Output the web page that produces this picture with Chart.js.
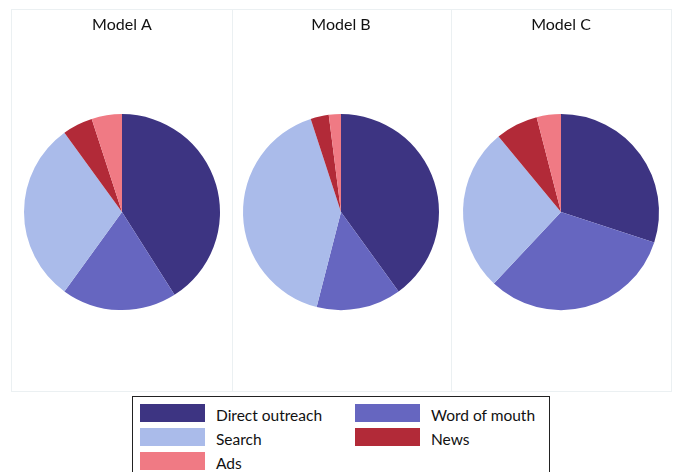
<!DOCTYPE html>
<html>
<head>
<meta charset="utf-8">
<script src="https://cdn.jsdelivr.net/npm/chart.js@4/dist/chart.umd.min.js"></script>
<style>
  html, body { margin: 0; padding: 0; background: #fff; overflow: hidden; }
  body { width: 673px; height: 472px; position: relative; font-family: Lato, "Noto Sans", sans-serif; }
  .panel { position: absolute; top: 9px; width: 220px; height: 381px; border: 1px solid #ebf0f2; box-sizing: content-box; }
  .panel canvas { display: block; width: 220px; height: 381px; }
  #legend { position: absolute; left: 132px; top: 396px; width: 416px; height: 100px;
            border: 1px solid #222; background: #fff; }
  .item { position: absolute; height: 18px; }
  .sw { position: absolute; left: 0; top: 0; width: 65px; height: 18px; }
  .lab { position: absolute; left: 76px; top: 1px; font-size: 15.5px; line-height: 20px; color: #111; white-space: nowrap; }
</style>
</head>
<body>
<div class="panel" style="left:11px"><canvas id="c0" width="220" height="381"></canvas></div>
<div class="panel" style="left:231px;border-left:none"><canvas id="c1" width="220" height="381"></canvas></div>
<div class="panel" style="left:451px;border-left:none"><canvas id="c2" width="220" height="381"></canvas></div>
<div id="legend"></div>
<script>
// Share of leads by acquisition channel, per model
const channels = ["Direct outreach", "Word of mouth", "Search", "News", "Ads"];
const models = ["Model A", "Model B", "Model C"];
const modelA = [41, 19, 30, 5, 5];
const modelB = [40, 14, 41, 3, 2];
const modelC = [30, 32, 27, 7, 4];
const channelColors = ["#3d3482", "#6666c0", "#aabbea", "#b22a38", "#f07a84"];

const series = [modelA, modelB, modelC];

series.forEach((values, i) => {
  const canvas = document.getElementById("c" + i);
  new Chart(canvas, {
    type: "pie",
    data: {
      labels: channels,
      datasets: [{
        data: values,
        backgroundColor: channelColors,
        borderWidth: 0,
        hoverOffset: 0
      }]
    },
    options: {
      responsive: false,
      maintainAspectRatio: false,
      animation: false,
      devicePixelRatio: 1,
      layout: { padding: { left: 12, right: 12, top: 0, bottom: 7 } },
      plugins: {
        legend: { display: false },
        tooltip: { enabled: false },
        title: {
          display: true,
          text: models[i],
          color: "#111",
          font: { family: "Lato, 'Noto Sans', sans-serif", size: 16, weight: "normal", lineHeight: 1.2 },
          padding: { top: 5, bottom: 6 }
        }
      }
    }
  });
});

// Legend: two columns, filled row by row
const legend = document.getElementById("legend");
channels.forEach((name, k) => {
  const col = k % 2, row = Math.floor(k / 2);
  const item = document.createElement("div");
  item.className = "item";
  item.style.left = (col === 0 ? 7 : 222) + "px";
  item.style.top = (7 + row * 24) + "px";
  const sw = document.createElement("div");
  sw.className = "sw";
  sw.style.background = channelColors[k];
  const lab = document.createElement("div");
  lab.className = "lab";
  lab.textContent = name;
  item.appendChild(sw);
  item.appendChild(lab);
  legend.appendChild(item);
});
</script>
</body>
</html>
